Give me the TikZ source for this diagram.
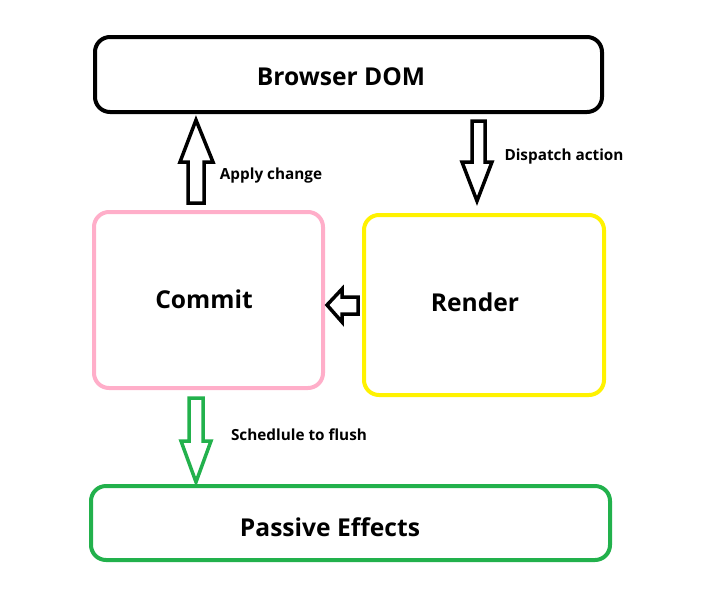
\documentclass[tikz,border=0pt]{standalone}
\usepackage{fontspec}
\setmainfont{Open Sans}
\definecolor{pinkc}{HTML}{FFAEC9}
\definecolor{yellowc}{HTML}{FFF200}
\definecolor{greenc}{HTML}{22B14C}
\begin{document}
\begin{tikzpicture}[x=1pt,y=-1pt,
  box/.style={line width=4pt, rounded corners=15pt},
  blockarrow/.style={line width=3.5pt, line join=miter},
  big/.style={font=\fontsize{24.6}{29}\selectfont\bfseries},
  small/.style={font=\fontsize{15.3}{18}\selectfont\bfseries}]
\useasboundingbox (0,0) rectangle (715,590);
% boxes
\draw[box, black] (95,37) rectangle (602,112);
\draw[box, pinkc] (94,212) rectangle (323,388);
\draw[box, yellowc] (364,215) rectangle (604,395);
\draw[box, greenc] (91,486) rectangle (610,560);
% texts
\node[big] (dom) at (341,77) {Browser DOM};
\node[big] (commit) at (204,299) {Commit};
\node[big] (render) at (475,302) {Render};
\node[big] (passive) at (330,527) {Passive Effects};
\node[small] (apply) at (271,175.5) {Apply change};
\node[small] (dispatch) at (564,156.5) {Dispatch action};
\node[small] (sched) at (299,435) {Schedlule to flush};
% arrows
\draw[blockarrow, black] (196,120) -- (213,162) -- (204,162) -- (204,203) -- (188,203) -- (188,162) -- (180,162) -- cycle;
\draw[blockarrow, black] (477,201) -- (492,162) -- (485,162) -- (485,121) -- (472,121) -- (472,162) -- (462,162) -- cycle;
\draw[blockarrow, black] (327,305) -- (342,289) -- (342,297) -- (358,297) -- (358,314) -- (342,314) -- (342,322) -- cycle;
\draw[blockarrow, greenc] (196,482) -- (211,441) -- (203,441) -- (203,398) -- (189,398) -- (189,441) -- (181,441) -- cycle;
\end{tikzpicture}
\end{document}
